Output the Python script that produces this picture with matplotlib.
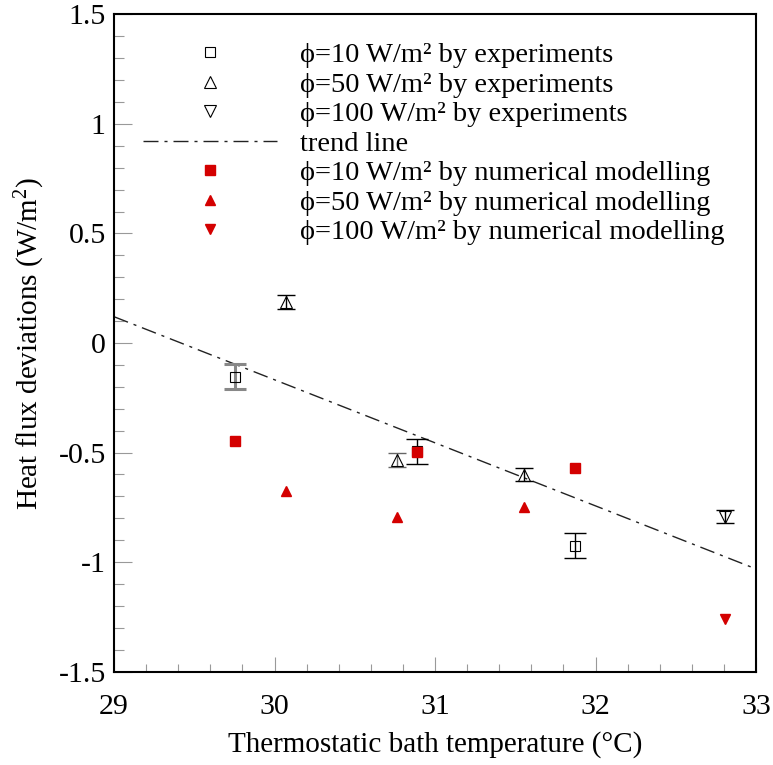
import matplotlib
matplotlib.use("Agg")
import matplotlib.pyplot as plt
from matplotlib.ticker import MultipleLocator, FuncFormatter
from matplotlib.lines import Line2D

plt.rcParams['font.family'] = ['Liberation Serif', 'DejaVu Serif']
plt.rcParams['mathtext.fontset'] = 'custom'
plt.rcParams['mathtext.rm'] = 'Liberation Serif'
plt.rcParams['mathtext.it'] = 'Liberation Serif:italic'
plt.rcParams['axes.unicode_minus'] = False

# ---- data ----
exp10_x = [29.754, 30.885, 31.874]
exp10_y = [-0.154, -0.494, -0.925]
exp10_err = [0.056, 0.057, 0.057]

exp50_x = [30.073, 30.763, 31.553]
exp50_y = [0.188, -0.534, -0.602]
exp50_err = [0.033, 0.033, 0.030]

exp100_x = [32.805]
exp100_y = [-0.793]
exp100_err = [0.029]

num10_x = [29.754, 30.885, 31.874]
num10_y = [-0.446, -0.496, -0.569]

num50_x = [30.073, 30.765, 31.553]
num50_y = [-0.674, -0.793, -0.750]

num100_x = [32.805]
num100_y = [-1.260]

trend_x = [29.0, 33.0]
trend_y = [0.120, -1.031]

labels = [
    "ϕ=10 W/m² by experiments",
    "ϕ=50 W/m² by experiments",
    "ϕ=100 W/m² by experiments",
    "trend line",
    "ϕ=10 W/m² by numerical modelling",
    "ϕ=50 W/m² by numerical modelling",
    "ϕ=100 W/m² by numerical modelling",
]

RED = '#d40000'

fig = plt.figure(figsize=(7.73, 7.65), dpi=100)
ax = fig.add_axes([114/773, 1-671.7/765, (756-114)/773, (671.7-14.3)/765])

dash = (0, (10.8, 4.3, 2.2, 4.3))
ax.plot(trend_x, trend_y, color='#222222', lw=1.0, linestyle=dash, zorder=2)

# experiments: error bars
ecols10 = ['#888888', 'black', 'black']
elw10 = [2.2, 1.0, 1.0]
for x, y, e, c, w in zip(exp10_x, exp10_y, exp10_err, ecols10, elw10):
    ax.errorbar([x], [y], yerr=[e], fmt='none', ecolor=c, elinewidth=w,
                capsize=8, capthick=w, zorder=3)
ecols50 = ['black', '#666666', 'black']
for x, y, e, c in zip(exp50_x, exp50_y, exp50_err, ecols50):
    ax.errorbar([x], [y], yerr=[e], fmt='none', ecolor=c, elinewidth=1.0,
                capsize=6.3, capthick=1.0, zorder=3)
ax.errorbar(exp100_x, exp100_y, yerr=exp100_err, fmt='none', ecolor='black',
            elinewidth=1.0, capsize=6.3, capthick=1.0, zorder=3)

ax.plot(exp10_x, exp10_y, 's', ms=7.2, mfc='none', mec='black', mew=0.8, zorder=4)
ax.plot(exp50_x, exp50_y, '^', ms=8.0, mfc='none', mec='black', mew=0.8, zorder=4)
ax.plot(exp100_x, exp100_y, 'v', ms=8.0, mfc='none', mec='black', mew=0.8, zorder=4)

ax.plot(num10_x, num10_y, 's', ms=7.2, color=RED, mec=RED, zorder=5)
ax.plot(num50_x, num50_y, '^', ms=7.5, color=RED, mec=RED, zorder=5)
ax.plot(num100_x, num100_y, 'v', ms=7.5, color=RED, mec=RED, zorder=5)

ax.set_xlim(29, 33)
ax.set_ylim(-1.5, 1.5)
ax.xaxis.set_major_locator(MultipleLocator(1))
ax.xaxis.set_minor_locator(MultipleLocator(0.2))
ax.yaxis.set_major_locator(MultipleLocator(0.5))
ax.yaxis.set_minor_locator(MultipleLocator(0.1))
ax.yaxis.set_major_formatter(FuncFormatter(lambda v, p: '%g' % v))
ax.xaxis.set_major_formatter(FuncFormatter(lambda v, p: '%g' % v))

ax.tick_params(axis='both', which='both', direction='in', color='#999999',
               top=False, right=False, labelsize=21.5)
ax.tick_params(axis='x', which='major', length=11, width=0.8, pad=16)
ax.tick_params(axis='x', which='minor', length=6, width=0.8)
ax.tick_params(axis='y', which='major', length=13, width=0.8, pad=6)
ax.tick_params(axis='y', which='minor', length=7.5, width=0.8)
for s in ax.spines.values():
    s.set_linewidth(1.5)

ax.set_xlabel('Thermostatic bath temperature (°C)', fontsize=21, labelpad=8)
ax.set_ylabel(r'Heat flux deviations (W/m$^2$)', fontsize=21, labelpad=8)

handles = [
    Line2D([], [], ls='none', marker='s', ms=7.2, mfc='none', mec='black', mew=0.8),
    Line2D([], [], ls='none', marker='^', ms=8.0, mfc='none', mec='black', mew=0.8),
    Line2D([], [], ls='none', marker='v', ms=8.0, mfc='none', mec='black', mew=0.8),
    Line2D([], [], color='#222222', lw=1.0, linestyle=dash),
    Line2D([], [], ls='none', marker='s', ms=7.2, color=RED),
    Line2D([], [], ls='none', marker='^', ms=7.5, color=RED),
    Line2D([], [], ls='none', marker='v', ms=7.5, color=RED),
]
LFS = 20.5
leg = fig.legend(handles, labels, loc='upper left',
                 bbox_to_anchor=(143/773, 1-42.5/765),
                 frameon=False, fontsize=LFS, handlelength=134/(LFS*100/72),
                 handletextpad=23/(LFS*100/72), borderpad=0,
                 labelspacing=0.125, borderaxespad=0)

fig.savefig('out.png', dpi=100)
